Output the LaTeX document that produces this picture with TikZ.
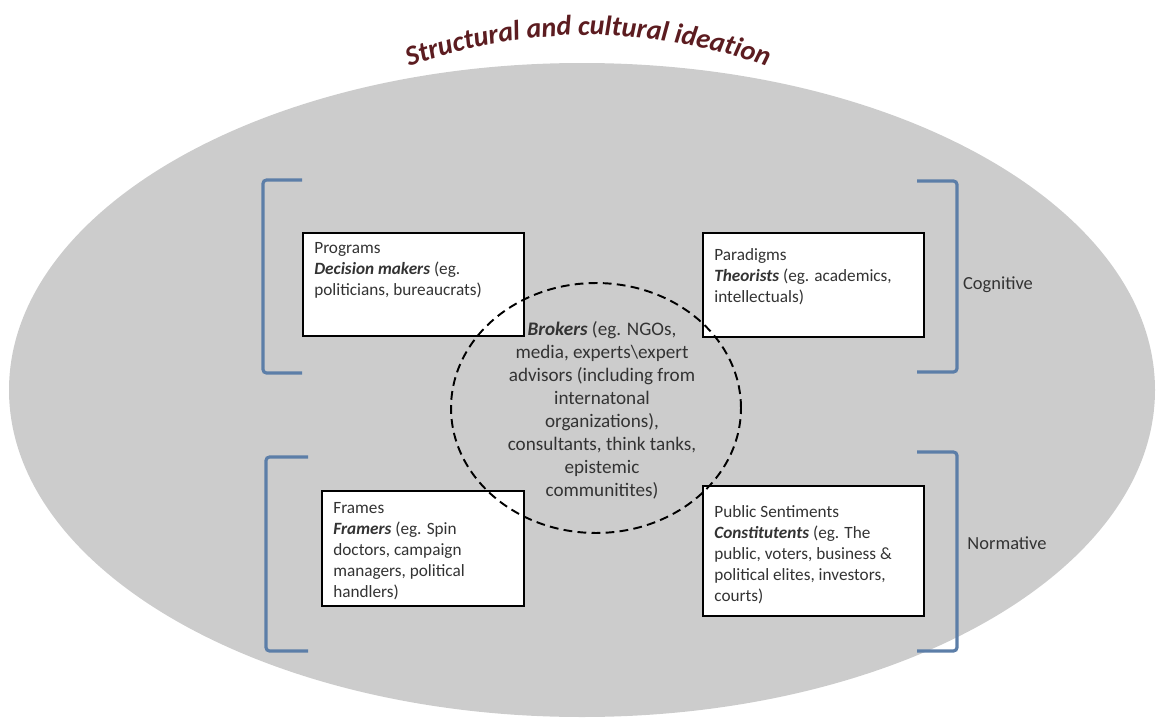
\documentclass[tikz,border=0pt]{standalone}
\usepackage{fontspec}
\setmainfont{Carlito}
\usepackage{tikz}
\usetikzlibrary{shapes.geometric,decorations.text}

\definecolor{ideared}{RGB}{92,28,32}
\definecolor{bracketblue}{RGB}{92,126,168}
\definecolor{fieldgray}{RGB}{204,204,204}
\newcommand{\actor}[1]{\textbf{\textit{#1}}}

\begin{document}
\begin{tikzpicture}[
  x=0.02cm, y=-0.02cm,
  box/.style={draw, line width=1.3pt, fill=white, anchor=north west, inner sep=0pt},
  boxtext/.style={anchor=north west, align=left, inner sep=0pt, text=black!80,
    font=\fontsize{9.8}{12}\selectfont},
  hubtext/.style={align=center, inner sep=0pt, text=black!80,
    font=\fontsize{10.9}{13.1}\selectfont},
  bracket/.style={draw=bracketblue, line width=1.8pt, rounded corners=2pt},
  sidelabel/.style={text=black!80, font=\fontsize{10.5}{12}\selectfont}
]
\useasboundingbox (0,0) rectangle (1157,720);

% the field of ideas
\fill[fieldgray] (582,390) ellipse [x radius=573, y radius=327];
\path[decorate, decoration={text along path, text align=center, text color=ideared,
    text={|\fontsize{16}{16}\selectfont\bfseries\itshape|Structural and cultural ideation}}]
  (588,555) ++(-110.6:520) arc[start angle=-110.6, end angle=-69.4, radius=520];

% the four boxes
\node[box, minimum width=4.42cm, minimum height=2.06cm] (prog) at (302,232) {};
\node[box, minimum width=4.42cm, minimum height=2.08cm] (para) at (702,232) {};
\node[box, minimum width=4.04cm, minimum height=2.30cm] (frames) at (321,490) {};
\node[box, minimum width=4.42cm, minimum height=2.60cm] (pub) at (702,485) {};

\node[boxtext] (progtext) at ([shift={(12,10)}]prog.north west)
  {Programs\\\actor{Decision makers} (eg.\\politicians, bureaucrats)};
\node[boxtext] (paratext) at ([shift={(12,16)}]para.north west)
  {Paradigms\\\actor{Theorists} (eg. academics,\\intellectuals)};
\node[boxtext] (framestext) at ([shift={(12,12)}]frames.north west)
  {Frames\\\actor{Framers} (eg. Spin\\doctors, campaign\\managers, political\\handlers)};
\node[boxtext] (pubtext) at ([shift={(12,20)}]pub.north west)
  {Public Sentiments\\\actor{Constitutents} (eg. The\\public, voters, business \&\\political elites, investors,\\courts)};

% brokers in the middle
\node[draw, ellipse, line width=1.1pt, dash pattern=on 5pt off 3pt,
  minimum width=5.8cm, minimum height=5.0cm] (hub) at (596,408) {};
\node[hubtext] (hubtext) at (602,410)
  {\actor{Brokers} (eg. NGOs,\\media, experts\textbackslash expert\\advisors (including from\\internatonal\\organizations),\\consultants, think tanks,\\epistemic\\communitites)};

% brackets
\draw[bracket] (302,180) -- (263,180) -- (263,373) -- (302,373);
\draw[bracket] (308,457) -- (266,457) -- (266,651) -- (308,651);
\draw[bracket] (917,181) -- (957,181) -- (957,372) -- (917,372);
\draw[bracket] (917,452) -- (957,452) -- (957,651) -- (917,651);

\node[sidelabel] (cognitive) at (998,285) {Cognitive};
\node[sidelabel] (normative) at (1007,543) {Normative};
\end{tikzpicture}
\end{document}
